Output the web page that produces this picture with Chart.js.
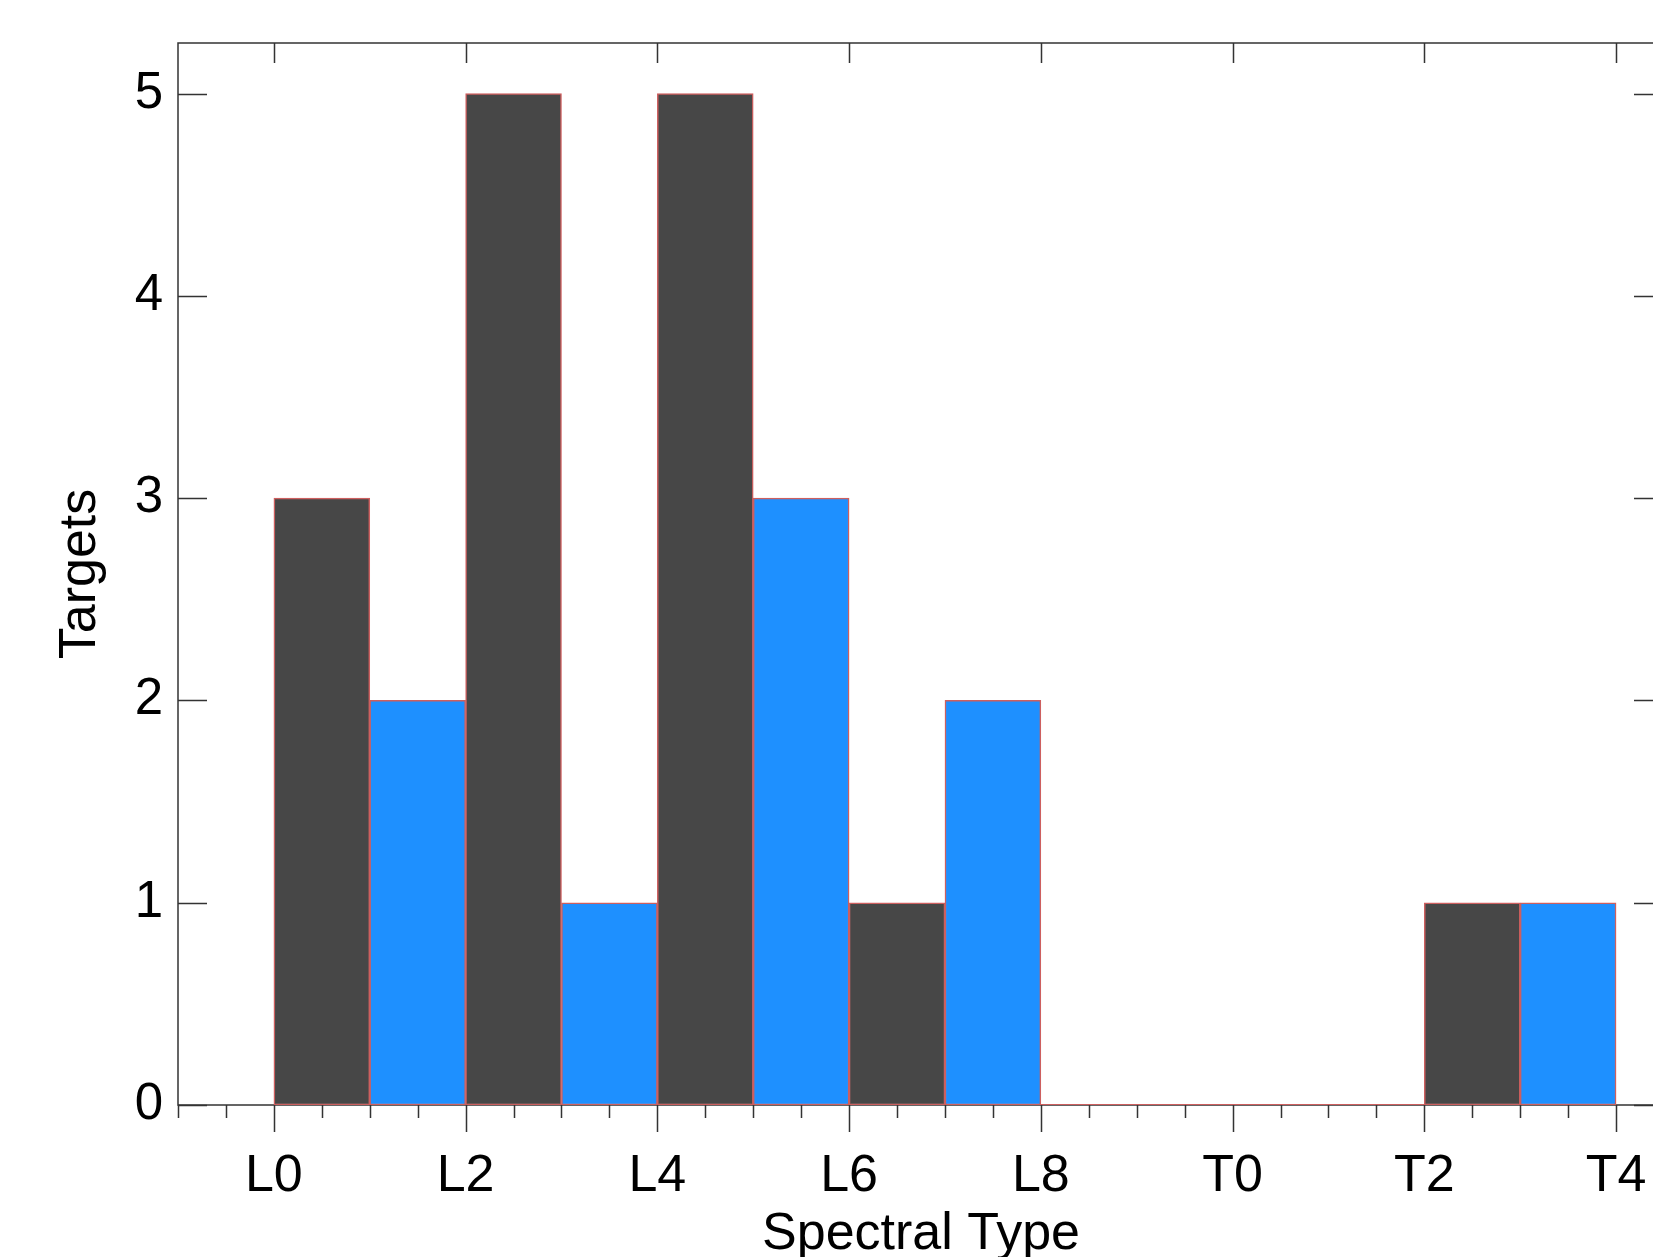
<!DOCTYPE html>
<html>
<head>
<meta charset="utf-8">
<script src="https://cdn.jsdelivr.net/npm/chart.js@4/dist/chart.umd.min.js"></script>
<style>
    html, body { margin: 0; padding: 0; background: #fff; overflow: hidden; }
    canvas { display: block; }
</style>
</head>
<body>
<canvas id="histo" width="1680" height="1257"></canvas>
<script>
// bins L0..T3, one subtype wide each (L0 = 0, T0 = 10)
const binTypes = ['L0', 'L1', 'L2', 'L3', 'L4', 'L5', 'L6', 'L7', 'L8', 'L9', 'T0', 'T1', 'T2', 'T3'];
const binStart = [0, 1, 2, 3, 4, 5, 6, 7, 8, 9, 10, 11, 12, 13];
const targets = [3, 2, 5, 1, 5, 3, 1, 2, 0, 0, 0, 0, 1, 1];

// axis ticks
const xMajorTicks = [0, 2, 4, 6, 8, 10, 12, 14];
const xMajorLabels = ['L0', 'L2', 'L4', 'L6', 'L8', 'T0', 'T2', 'T4'];
const yTicks = [0, 1, 2, 3, 4, 5];

const DARK = '#474747';
const BLUE = '#1E90FF';
const EDGE = 'rgb(205, 95, 95)';
const FONT = "'Liberation Sans', Arial, Helvetica, sans-serif";

// bars, centre of each bin
const barData = targets.map((n, i) => ({ x: binStart[i] + 0.5, y: n }));

// the empty bins only show their red outline on the zero line
const zeroData = [];
targets.forEach((n, i) => {
    if (n === 0) {
        zeroData.push({ x: binStart[i], y: 0 });
        zeroData.push({ x: binStart[i] + 1, y: 0 });
    }
});

// frame and tick marks, IDL style
const cadre = {
    id: 'cadre',
    beforeDatasetsDraw(chart) {
        const { ctx, chartArea: a } = chart;
        ctx.save();
        ctx.strokeStyle = '#333';
        ctx.lineWidth = 1.5;
        ctx.strokeRect(a.left, a.top, a.right - a.left, a.bottom - a.top);
        ctx.restore();
    },
    afterDraw(chart) {
        const { ctx, chartArea: a, scales: { x, y } } = chart;
        ctx.save();
        ctx.strokeStyle = '#333';
        ctx.lineWidth = 1.5;
        ctx.beginPath();
        // bottom ticks, every half subtype, outside
        for (let v = x.min; v <= x.max + 1e-9; v += 0.5) {
            const px = Math.round(x.getPixelForValue(v)) + 0.5;
            const len = xMajorTicks.includes(v) ? 27 : 13;
            ctx.moveTo(px, a.bottom);
            ctx.lineTo(px, a.bottom + len);
        }
        // top ticks, majors only, inside
        xMajorTicks.forEach(v => {
            const px = Math.round(x.getPixelForValue(v)) + 0.5;
            ctx.moveTo(px, a.top);
            ctx.lineTo(px, a.top + 20);
        });
        // left and right ticks, inside
        yTicks.forEach(v => {
            const py = Math.round(y.getPixelForValue(v)) + 0.5;
            ctx.moveTo(a.left, py);
            ctx.lineTo(a.left + 29, py);
            ctx.moveTo(a.right, py);
            ctx.lineTo(a.right - 30, py);
        });
        ctx.stroke();
        ctx.restore();
    }
};

const ctx = document.getElementById('histo').getContext('2d');
new Chart(ctx, {
    type: 'bar',
    data: {
        datasets: [{
            type: 'line',
            data: zeroData,
            borderColor: EDGE,
            borderWidth: 2,
            pointRadius: 0,
            order: 0
        }, {
            label: 'Targets',
            data: barData,
            backgroundColor: c => (c.dataIndex % 2 === 0 ? DARK : BLUE),
            borderColor: EDGE,
            borderWidth: 1.5,
            borderSkipped: false,
            barPercentage: 1.0,
            categoryPercentage: 1.0,
            order: 1
        }]
    },
    options: {
        responsive: false,
        animation: false,
        devicePixelRatio: 1,
        layout: {
            padding: { top: 43, right: 16, left: 0, bottom: 0 }
        },
        plugins: {
            legend: { display: false },
            tooltip: { enabled: false }
        },
        scales: {
            x: {
                type: 'linear',
                min: -1,
                max: 14.5,
                offset: false,
                grid: { display: false, drawTicks: false, offset: false },
                border: { display: false },
                afterBuildTicks: s => { s.ticks = xMajorTicks.map(v => ({ value: v })); },
                afterFit: s => {
                    s.height = 152;
                    s.paddingLeft = 0;
                    s.paddingRight = 0;
                },
                ticks: {
                    autoSkip: false,
                    maxRotation: 0,
                    padding: 46,
                    color: '#000',
                    font: { family: FONT, size: 52, lineHeight: 1 },
                    callback: (value, index) => xMajorLabels[index]
                },
                title: {
                    display: true,
                    text: 'Spectral Type',
                    color: '#000',
                    padding: { top: 0, bottom: 0 },
                    font: { family: FONT, size: 52, lineHeight: 0.87 }
                }
            },
            y: {
                min: 0,
                max: 5.25,
                grid: { display: false, drawTicks: false },
                border: { display: false },
                afterBuildTicks: s => { s.ticks = yTicks.map(v => ({ value: v })); },
                afterFit: s => {
                    s.width = 178;
                    s.paddingTop = 0;
                    s.paddingBottom = 0;
                },
                ticks: {
                    padding: 15,
                    color: '#000',
                    font: { family: FONT, size: 51, lineHeight: 1 }
                },
                title: {
                    display: true,
                    text: 'Targets',
                    color: '#000',
                    padding: { top: 55, bottom: 0 },
                    font: { family: FONT, size: 52, lineHeight: 1 }
                }
            }
        }
    },
    plugins: [cadre]
});
</script>
</body>
</html>
